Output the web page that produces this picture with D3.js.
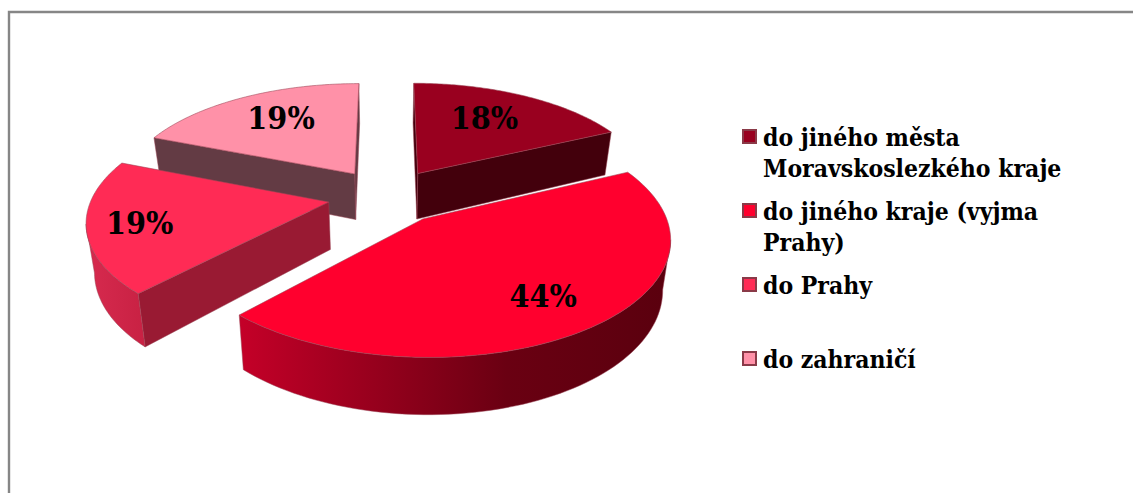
<!DOCTYPE html>
<html><head><meta charset="utf-8">
<script src="https://cdn.jsdelivr.net/npm/d3@7"></script>
<style>html,body{margin:0;padding:0;background:#fff;overflow:hidden}svg{display:block}</style>
</head><body><svg id="c" width="1133" height="493"></svg>
<script>
const categories = ["do jiného města|Moravskoslezkého kraje","do jiného kraje (vyjma|Prahy)","do Prahy","do zahraničí"];
const values = [18,44,19,19];
const valueLabels = ["18%","44%","19%","19%"];
const topColors = ["#99001f","#ff002e","#ff2b55","#ff91a8"];
const wallColors = ["#43000c","#991a33","#991a33","#633b44"];

// projection of the pie plane (perspective camera looking down)
const P = {x0:387,y0:196,A:236.5,B:110,k:.15,E:.25,D:47,shrink:.972};
const W=1133,H=493;
const sx=d3.scaleLinear().domain([0,1]).range([P.x0,P.x0+P.A]);
const sy=d3.scaleLinear().domain([0,1]).range([P.y0,P.y0-P.B]);
function persp(Y){return 1/(1+P.k*Y);}
function topPt(X,Y){const s=persp(Y);return [sx(X*s),sy(Y*s)];}
function botPt(X,Y){const s=persp(Y);return [P.x0+(sx(X*s)-P.x0)*P.shrink,sy(Y*s)+P.D*s];}

const svg=d3.select("#c");
svg.append("path").attr("d",`M9,${H}V12H${W}`).attr("fill","none").attr("stroke","#868686").attr("stroke-width",2.4);

const defs=svg.append("defs");
function grad(id,stops,x1,x2){
  const g=defs.append("linearGradient").attr("id",id).attr("gradientUnits","userSpaceOnUse")
    .attr("x1",x1).attr("x2",x2).attr("y1",0).attr("y2",0);
  stops.forEach(s=>g.append("stop").attr("offset",s[0]).attr("stop-color",s[1]));
}
grad("rim1",[[0,"#c40028"],[.62,"#6a0012"],[1,"#5a000e"]],240,670);
grad("rim2",[[0,"#d62a4e"],[1,"#c82143"]],88,146);
const rimFill=["#43000c","url(#rim1)","url(#rim2)","#633b44"];

const arcs=d3.pie().sort(null).startAngle(0).endAngle(2*Math.PI)(values);
const line=d3.line();
const edge="#9b4555";

const slices=arcs.map((a,i)=>{
  const mid=(a.startAngle+a.endAngle)/2;
  const ox=P.E*Math.sin(mid), oy=P.E*Math.cos(mid);
  const pt=(t,r)=>[ox+r*Math.sin(t),oy+r*Math.cos(t)];
  const n=90, arcPts=d3.range(n+1).map(j=>pt(a.startAngle+(a.endAngle-a.startAngle)*j/n,1));
  return {i,mid,pt,arcPts,apex:[ox,oy]};
});

const order=[3,0,2,1];
order.forEach(i=>{
  const sl=slices[i], g=svg.append("g");
  const quad=(pts,fill)=>{
    const t=pts.map(p=>topPt(p[0],p[1])), b=pts.map(p=>botPt(p[0],p[1])).reverse();
    g.append("path").attr("d",line(t.concat(b))+"Z").attr("fill",fill)
      .attr("stroke",edge).attr("stroke-opacity",.7).attr("stroke-width",.7).attr("stroke-linejoin","round");
  };
  const a0=sl.arcPts[0], a1=sl.arcPts[sl.arcPts.length-1];
  const leftward=(p,q)=>topPt(q[0],q[1])[0]<topPt(p[0],p[1])[0];
  if(leftward(a1,sl.apex)) quad([a1,sl.apex],wallColors[i]);
  if(leftward(sl.apex,a0)) quad([sl.apex,a0],wallColors[i]);
  let run=[];
  const flush=()=>{if(run.length>1)quad(run,rimFill[i]);run=[];};
  sl.arcPts.forEach((p,j)=>{
    if(j===0)return;
    const q=sl.arcPts[j-1];
    if(leftward(q,p)){if(!run.length)run.push(q);run.push(p);}else flush();
  });
  flush();
  const face=[sl.apex,...sl.arcPts].map(p=>topPt(p[0],p[1]));
  g.append("path").attr("d",line(face)+"Z").attr("fill",topColors[i])
    .attr("stroke",edge).attr("stroke-opacity",.8).attr("stroke-width",.7).attr("stroke-linejoin","round");
});

const font='"DejaVu Serif Condensed","DejaVu Serif",serif';
const labelNudge=[[-10,1],[7,4],[-21,3],[7,-1]];
slices.forEach((sl,i)=>{
  const c=sl.pt(sl.mid,.7), q=topPt(c[0],c[1]);
  svg.append("text").attr("x",q[0]+labelNudge[i][0]).attr("y",q[1]+labelNudge[i][1]+11)
    .attr("text-anchor","middle").attr("font-family",font).attr("font-weight",700)
    .attr("font-size",32).attr("fill","#000").text(valueLabels[i]);
});

const rows=d3.scaleBand().domain(d3.range(categories.length)).range([129,129+74*4]);
categories.forEach((c,i)=>{
  const y=rows(i);
  svg.append("rect").attr("x",743).attr("y",y+1).attr("width",13).attr("height",13)
    .attr("fill",topColors[i]).attr("stroke","#8a3a48").attr("stroke-width",2);
  const t=svg.append("text").attr("font-family",font).attr("font-weight",700)
    .attr("font-size",24.5).attr("fill","#000");
  c.split("|").forEach((s,j)=>t.append("tspan").attr("x",763).attr("y",y+17+31*j).text(s));
});
</script></body></html>
